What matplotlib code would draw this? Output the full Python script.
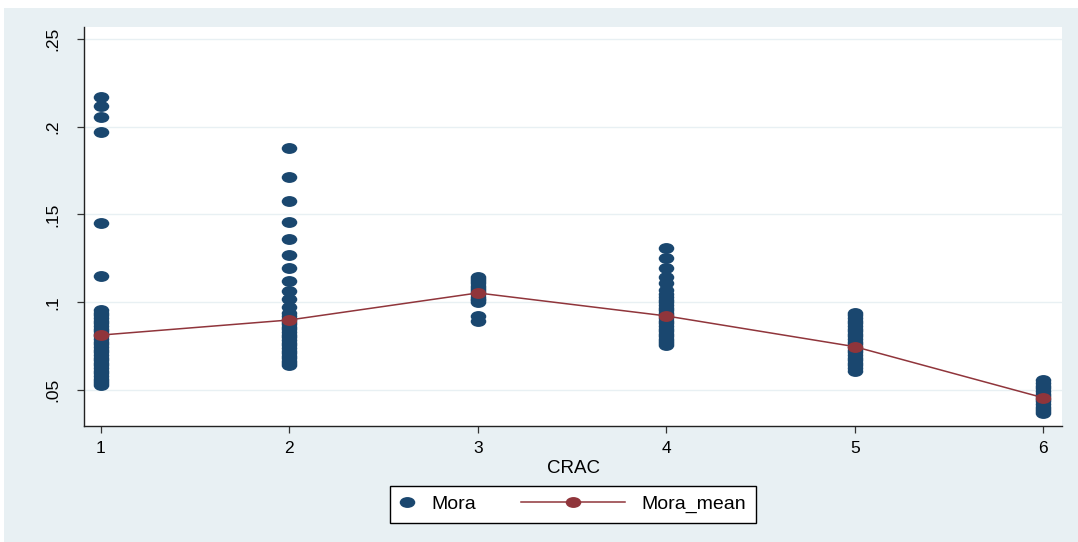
import numpy as np
import matplotlib
matplotlib.use("Agg")
import matplotlib.pyplot as plt
from matplotlib.path import Path
from matplotlib.transforms import Affine2D
from matplotlib.patches import Rectangle
from matplotlib.lines import Line2D
from matplotlib.legend_handler import HandlerLine2D

plt.rcParams['font.family'] = ['Liberation Sans', 'DejaVu Sans']

# ---------------- data ----------------
crac = [1, 2, 3, 4, 5, 6]
mora_1 = [0.2171, 0.2120, 0.2054, 0.1972, 0.1450, 0.1150,
          0.0955, 0.0940, 0.0925, 0.0910, 0.0895, 0.0880, 0.0865, 0.0850,
          0.0835, 0.0820, 0.0805, 0.0790, 0.0775, 0.0760, 0.0745, 0.0730,
          0.0715, 0.0700, 0.0685, 0.0670, 0.0655, 0.0640, 0.0625, 0.0610,
          0.0595, 0.0580, 0.0565, 0.0550, 0.0538, 0.0528]
mora_2 = [0.1877, 0.1715, 0.1579, 0.1459, 0.1359, 0.1269, 0.1193, 0.1123,
          0.1066, 0.1017, 0.0975, 0.0940, 0.0920, 0.0905, 0.0890, 0.0875,
          0.0860, 0.0845, 0.0830, 0.0815, 0.0800, 0.0785, 0.0770, 0.0755,
          0.0740, 0.0725, 0.0710, 0.0695, 0.0680, 0.0665, 0.0652, 0.0642]
mora_3 = [0.1145, 0.1132, 0.1120, 0.1108, 0.1095, 0.1082, 0.1070, 0.1058,
          0.1045, 0.1032, 0.1020, 0.1010, 0.1001, 0.0922, 0.0894]
mora_4 = [0.1307, 0.1250, 0.1193, 0.1146, 0.1108, 0.1070, 0.1045, 0.1030,
          0.1015, 0.1000, 0.0985, 0.0970, 0.0955, 0.0940, 0.0925, 0.0910,
          0.0895, 0.0880, 0.0865, 0.0850, 0.0835, 0.0820, 0.0805, 0.0790,
          0.0777, 0.0765, 0.0756]
mora_5 = [0.0940, 0.0925, 0.0910, 0.0895, 0.0880, 0.0865, 0.0850, 0.0835,
          0.0820, 0.0805, 0.0790, 0.0775, 0.0760, 0.0745, 0.0730, 0.0715,
          0.0700, 0.0685, 0.0670, 0.0655, 0.0640, 0.0625, 0.0610]
mora_6 = [0.0555, 0.0540, 0.0525, 0.0510, 0.0495, 0.0480, 0.0465, 0.0450,
          0.0435, 0.0420, 0.0405, 0.0390, 0.0378, 0.0369]
mora_by_crac = [mora_1, mora_2, mora_3, mora_4, mora_5, mora_6]
mora_mean = [0.0813, 0.0899, 0.1053, 0.0922, 0.0747, 0.0456]

y_ticks = [0.05, 0.10, 0.15, 0.20, 0.25]
y_ticklabels = ['.05', '.1', '.15', '.2', '.25']
x_label = 'CRAC'
legend_labels = ['Mora', 'Mora_mean']

# ---------------- style ----------------
W, H = 1078, 542
navy = '#1A476F'
maroon = '#90353B'
bg = '#E8F0F3'
ell = Path.unit_circle().transformed(Affine2D().scale(1.0, 0.70))
ms = 11.2

fig = plt.figure(figsize=(W / 100, H / 100), dpi=100, facecolor='white')
fig.patches.append(Rectangle((4 / W, 0), 1 - 4 / W, (H - 8) / H,
                             transform=fig.transFigure, facecolor=bg,
                             edgecolor='none', zorder=-10))
ax = fig.add_axes([84 / W, 1 - 426 / H, (1062 - 84) / W, (426 - 27) / H])
ax.set_facecolor('white')

for c, vals in zip(crac, mora_by_crac):
    ax.plot([c] * len(vals), vals, ls='none', marker=ell, ms=ms,
            color=navy, mew=0, zorder=3)
ax.plot(crac, mora_mean, color=maroon, lw=1.1, marker=ell, ms=ms,
        mew=0, zorder=4)

ax.set_xlim(0.91, 6.10)
ax.set_ylim(0.0295, 0.2568)
ax.set_xticks(crac)
ax.set_xticklabels([str(c) for c in crac])
ax.set_yticks(y_ticks)
ax.set_yticklabels(y_ticklabels, rotation=90, va='center')
ax.tick_params(axis='both', direction='out', length=5, width=0.9,
               color='#333333', labelsize=12.5, labelcolor='black')
ax.tick_params(axis='x', pad=6)
ax.tick_params(axis='y', pad=12)
ax.yaxis.grid(True, color=bg, lw=1.0, zorder=0)
ax.set_axisbelow(True)
for s in ['top', 'right']:
    ax.spines[s].set_visible(False)
for s in ['left', 'bottom']:
    ax.spines[s].set_color('#222222')
    ax.spines[s].set_linewidth(1.0)
ax.set_xlabel(x_label, fontsize=13.5, labelpad=3)


class LeftExtendedLine(HandlerLine2D):
    def __init__(self, ext, **kw):
        super().__init__(**kw)
        self.ext = ext

    def get_xdata(self, legend, xdescent, ydescent, width, height, fontsize):
        xd = np.array([-xdescent - self.ext, -xdescent + width])
        xm = np.array([xd.mean()])
        return xd, xm


h_mora = Line2D([], [], ls='none', marker=ell, ms=ms, color=navy, mew=0)
h_mean = Line2D([], [], color=maroon, lw=1.1, marker=ell, ms=ms, mew=0)
leg = fig.legend([h_mora, h_mean], legend_labels, loc='center',
                 bbox_to_anchor=(573 / W, 1 - 504.5 / H), ncol=2,
                 fontsize=14, handlelength=0.75, handletextpad=0.88,
                 columnspacing=6.9, borderpad=0.48, fancybox=False,
                 framealpha=1, edgecolor='black', facecolor='white',
                 numpoints=1,
                 handler_map={h_mean: LeftExtendedLine(ext=64)})
leg.get_frame().set_linewidth(1.0)

fig.savefig('out.png', dpi=100, facecolor=fig.get_facecolor())
